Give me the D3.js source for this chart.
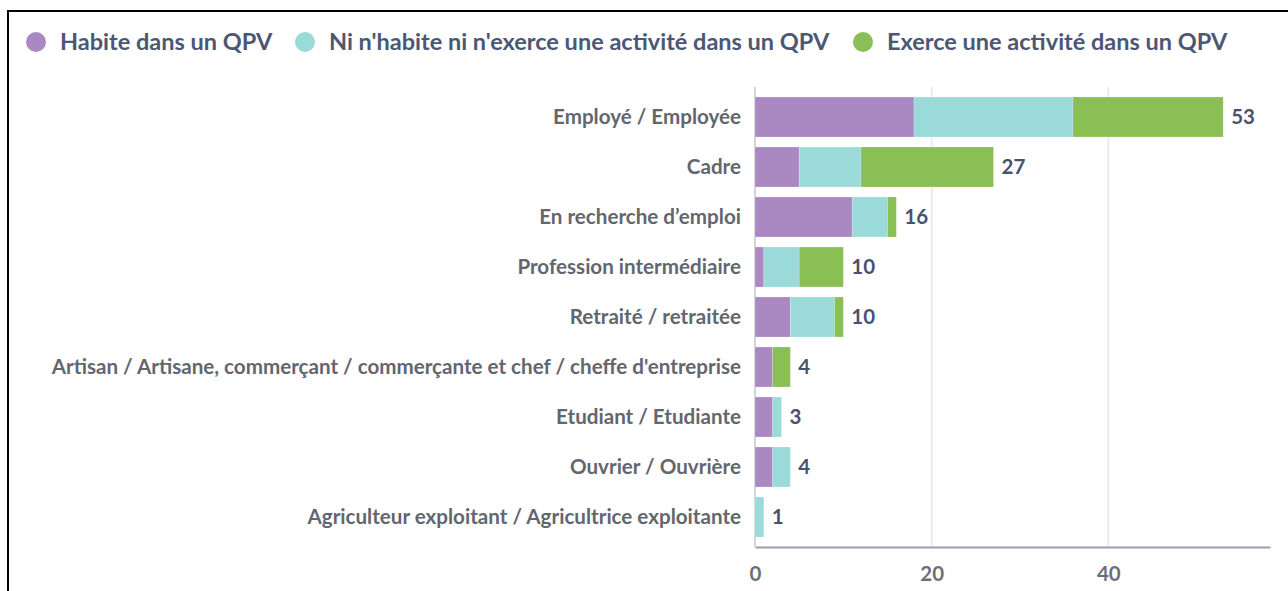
<!DOCTYPE html>
<html>
<head>
<meta charset="utf-8">
<script src="https://cdn.jsdelivr.net/npm/d3@7"></script>
<style>
  body { margin: 0; background: #fff; }
  svg { display: block; font-family: Lato, "Open Sans", sans-serif; font-weight: 700; }
</style>
</head>
<body>
<div id="chart"></div>
<script>
// data

var categories = [
  "Employé / Employée",
  "Cadre",
  "En recherche d’emploi",
  "Profession intermédiaire",
  "Retraité / retraitée",
  "Artisan / Artisane, commerçant / commerçante et chef / cheffe d'entreprise",
  "Etudiant / Etudiante",
  "Ouvrier / Ouvrière",
  "Agriculteur exploitant / Agricultrice exploitante"
];

var seriesNames = [
  "Habite dans un QPV",
  "Ni n'habite ni n'exerce une activité dans un QPV",
  "Exerce une activité dans un QPV"
];

var habite  = [18, 5, 11, 1, 4, 2, 2, 2, 0];
var ni      = [18, 7, 4, 4, 5, 0, 1, 2, 1];
var exerce  = [17, 15, 1, 5, 1, 2, 0, 0, 0];

var xTicks = [0, 20, 40];

var colors = ["#aa88c2", "#9adad9", "#8abf56"];

var width = 1288,
    height = 591;

var svg = d3.select("#chart").append("svg")
  .attr("width", width)
  .attr("height", height);

// frame lines (top and left)
svg.append("line")
  .attr("x1", 7).attr("x2", width).attr("y1", 11).attr("y2", 11)
  .attr("stroke", "#000").attr("stroke-width", 2);
svg.append("line")
  .attr("x1", 8).attr("x2", 8).attr("y1", 10).attr("y2", height)
  .attr("stroke", "#000").attr("stroke-width", 2);

// build table for stacking
var table = categories.map(function(c, i) {
  return { cat: c, a: habite[i], b: ni[i], c: exerce[i] };
});
var keys = ["a", "b", "c"];
var stacked = d3.stack().keys(keys)(table);

var x = d3.scaleLinear()
  .domain([0, 58.3])
  .range([755, 1270]);

var y = d3.scaleBand()
  .domain(categories)
  .range([87, 547])
  .padding(0.2);

// grid lines
svg.append("g")
  .selectAll("line")
  .data(xTicks.slice(1))
  .enter()
  .append("line")
  .attr("x1", d => x(d)).attr("x2", d => x(d))
  .attr("y1", y.range()[0]).attr("y2", y.range()[1])
  .attr("stroke", "#e6e6e6")
  .attr("stroke-width", 1.5);

// zero line
svg.append("line")
  .attr("x1", x(0)).attr("x2", x(0))
  .attr("y1", y.range()[0]).attr("y2", y.range()[1])
  .attr("stroke", "#c5c8d2")
  .attr("stroke-width", 1.5);

// bars
svg.append("g")
  .selectAll("g")
  .data(stacked)
  .enter()
  .append("g")
  .attr("fill", (d, i) => colors[i])
  .selectAll("rect")
  .data(d => d.filter(p => p[1] > p[0]))
  .enter()
  .append("rect")
  .attr("x", d => x(d[0]))
  .attr("y", d => y(d.data.cat))
  .attr("width", d => x(d[1]) - x(d[0]))
  .attr("height", y.bandwidth())
  .attr("stroke", "#fff")
  .attr("stroke-opacity", 0.35)
  .attr("stroke-width", 0.6);

// totals
svg.append("g")
  .selectAll("text")
  .data(table)
  .enter()
  .append("text")
  .attr("x", d => x(d.a + d.b + d.c) + 8)
  .attr("y", d => y(d.cat) + y.bandwidth() / 2)
  .attr("dy", "0.36em")
  .attr("fill", "#48526f")
  .style("font-size", "20.5px")
  .text(d => d.a + d.b + d.c);

// category labels
svg.append("g")
  .selectAll("text")
  .data(categories)
  .enter()
  .append("text")
  .attr("x", x(0) - 14)
  .attr("y", d => y(d) + y.bandwidth() / 2)
  .attr("dy", "0.36em")
  .attr("text-anchor", "end")
  .attr("fill", "#62666f")
  .style("font-size", "20.6px")
  .text(d => d);

// x axis
var xAxis = svg.append("g")
  .attr("transform", "translate(0," + y.range()[1] + ")")
  .call(d3.axisBottom(x).tickValues(xTicks).tickSize(0).tickPadding(19));
xAxis.select(".domain")
  .attr("stroke", "#9a9fb0")
  .attr("stroke-width", 2);
xAxis.selectAll("text")
  .attr("fill", "#6c6f78")
  .style("font-family", "Lato, sans-serif")
  .style("font-weight", 700)
  .style("font-size", "20.5px");

// legend
var legendX = [36, 305, 863];
var legend = svg.append("g")
  .selectAll("g")
  .data(seriesNames)
  .enter()
  .append("g")
  .attr("transform", (d, i) => "translate(" + legendX[i] + ",42)");
legend.append("circle")
  .attr("r", 10)
  .attr("fill", (d, i) => colors[i]);
legend.append("text")
  .attr("x", 24)
  .attr("dy", "0.36em")
  .attr("fill", "#4b5775")
  .style("font-size", "23.5px")
  .text(d => d);
</script>
</body>
</html>
